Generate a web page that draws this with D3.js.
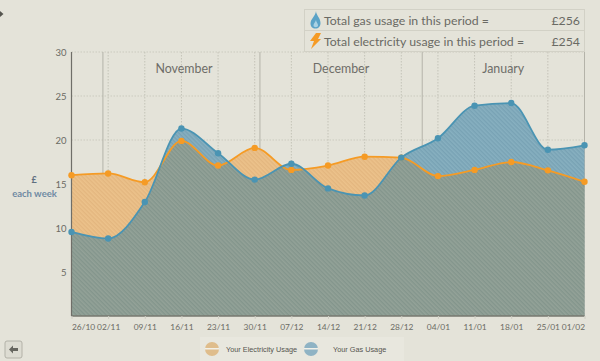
<!DOCTYPE html>
<html>
<head>
<meta charset="utf-8">
<script src="https://cdnjs.cloudflare.com/ajax/libs/d3/7.8.5/d3.min.js"></script>
<style>
    html, body { margin: 0; padding: 0; background: #e4e3d9; overflow: hidden; }
    text { font-family: Lato, sans-serif; }
</style>
</head>
<body>
<div id="chart"></div>
<script>
const weeks = ["2009-10-26", "2009-11-02", "2009-11-09", "2009-11-16", "2009-11-23", "2009-11-30", "2009-12-07",
    "2009-12-14", "2009-12-21", "2009-12-28", "2010-01-04", "2010-01-11", "2010-01-18", "2010-01-25", "2010-02-01"];
const gas = [9.55, 8.8, 12.95, 21.3, 18.5, 15.5, 17.3, 14.5, 13.7, 18.0, 20.2, 23.9, 24.2, 18.9, 19.4];
const electricity = [16.0, 16.2, 15.2, 19.9, 17.1, 19.1, 16.6, 17.1, 18.1, 18.0, 15.9, 16.6, 17.5, 16.55, 15.25];
const yTicks = [5, 10, 15, 20, 25, 30];
const monthStarts = ["2009-11-01", "2009-12-01", "2010-01-01", "2010-02-01"];
const monthNames = ["November", "December", "January"];
const monthCentres = ["2009-11-16", "2009-12-16", "2010-01-16"];
const totals = [["Total gas usage in this period =", "£256"], ["Total electricity usage in this period =", "£254"]];

const width = 600, height = 361;
const margin = { left: 71.5, top: 52, right: 15.5, bottom: 45 };
const parseDate = d3.utcParse("%Y-%m-%d");
const formatTick = d3.utcFormat("%d/%m");
const dates = weeks.map(parseDate);

const x = d3.scaleUtc()
    .domain(d3.extent(dates))
    .range([margin.left, width - margin.right]);
const y = d3.scaleLinear()
    .domain([0, 30])
    .range([height - margin.bottom, margin.top]);

const svg = d3.select("#chart").append("svg")
    .attr("width", width)
    .attr("height", height)
    .style("display", "block");

const defs = svg.append("defs");

// diagonal stripes for the three fills
function stripes(id, base, stripe) {
    const p = defs.append("pattern")
        .attr("id", id)
        .attr("width", 3)
        .attr("height", 3)
        .attr("patternUnits", "userSpaceOnUse")
        .attr("patternTransform", "rotate(45)");
    p.append("rect").attr("width", 3).attr("height", 3).attr("fill", base);
    p.append("rect").attr("width", 3).attr("height", 1.4).attr("fill", stripe);
}
stripes("elecFill", "#ecc28b", "#e3b67f");
stripes("gasFill", "#87b0c0", "#78a2b4");
stripes("bothFill", "#93a298", "#83958c");

const curve = d3.curveMonotoneX;
const area = values => d3.area()
    .x((d, i) => x(dates[i]))
    .y0(y(0))
    .y1(d => y(d))
    .curve(curve)(values);
const line = values => d3.line()
    .x((d, i) => x(dates[i]))
    .y(d => y(d))
    .curve(curve)(values);

defs.append("clipPath").attr("id", "gasClip")
    .append("path").attr("d", area(gas));

// Raster
svg.append("g").selectAll("line")
    .data(yTicks)
    .join("line")
    .attr("x1", margin.left)
    .attr("x2", width - margin.right)
    .attr("y1", d => y(d))
    .attr("y2", d => y(d))
    .attr("stroke", "#cbcabf")
    .attr("stroke-dasharray", "1.5,1.5");

svg.append("g").selectAll("line")
    .data(dates.slice(1))
    .join("line")
    .attr("x1", d => x(d))
    .attr("x2", d => x(d))
    .attr("y1", y(30))
    .attr("y2", y(0))
    .attr("stroke", "#c4c3b8")
    .attr("stroke-dasharray", "1.5,1.5");

svg.append("g").selectAll("line")
    .data(monthStarts.map(parseDate))
    .join("line")
    .attr("x1", d => x(d))
    .attr("x2", d => x(d))
    .attr("y1", y(30))
    .attr("y2", y(0))
    .attr("stroke", "#b4b3a9")
    .attr("stroke-width", 1);

// Flächen
svg.append("path").attr("d", area(electricity)).attr("fill", "url(#elecFill)");
svg.append("path").attr("d", area(gas)).attr("fill", "url(#gasFill)");
svg.append("path").attr("d", area(electricity)).attr("fill", "url(#bothFill)").attr("clip-path", "url(#gasClip)");

// Achsen
svg.append("line")
    .attr("x1", margin.left).attr("x2", margin.left)
    .attr("y1", y(30)).attr("y2", y(0))
    .attr("stroke", "#6f6e68").attr("stroke-width", 1.2);
svg.append("line")
    .attr("x1", margin.left).attr("x2", width - margin.right)
    .attr("y1", y(0)).attr("y2", y(0))
    .attr("stroke", "#77786f").attr("stroke-width", 1.4);

const yAxis = svg.append("g")
    .attr("transform", `translate(${margin.left}, 0)`)
    .call(d3.axisLeft(y).tickValues(yTicks).tickSize(0).tickPadding(5));
yAxis.select(".domain").remove();
yAxis.selectAll("text").attr("fill", "#6b6b64").style("font-size", "9.5px").style("font-family", "Lato, sans-serif");

const xAxis = svg.append("g")
    .attr("transform", `translate(0, ${y(0)})`)
    .call(d3.axisBottom(x).tickValues(dates).tickFormat(formatTick).tickSize(3).tickPadding(5));
xAxis.select(".domain").remove();
xAxis.selectAll("line").attr("stroke", "#cfcec4");
xAxis.selectAll("text").attr("fill", "#6b6b64").style("font-size", "8.4px").style("font-family", "Lato, sans-serif");
xAxis.selectAll("text").filter((d, i) => i === 0).attr("text-anchor", "start");
xAxis.selectAll("text").filter((d, i) => i === dates.length - 1).attr("text-anchor", "end");

// Linien und Punkte
[[electricity, "#f59b25", 4], [gas, "#4a94b3", 4]].forEach(([values, colour, r]) => {
    svg.append("path")
        .attr("d", line(values))
        .attr("fill", "none")
        .attr("stroke", colour)
        .attr("stroke-width", 1.8);
    svg.append("g").selectAll("circle")
        .data(values)
        .join("circle")
        .attr("cx", (d, i) => x(dates[i]))
        .attr("cy", d => y(d))
        .attr("r", r - 0.8)
        .attr("fill", colour);
});

// Monate
svg.append("g").selectAll("text")
    .data(monthNames)
    .join("text")
    .attr("x", (d, i) => x(parseDate(monthCentres[i])) + 2.5)
    .attr("y", 73)
    .attr("text-anchor", "middle")
    .attr("fill", "#6e6d68")
    .style("font-size", "12.4px")
    .text(d => d);

// y-Titel
svg.append("text").attr("x", 34).attr("y", 183).attr("text-anchor", "middle")
    .attr("fill", "#5f6f80").style("font-size", "9px").style("font-weight", "bold").text("£");
svg.append("text").attr("x", 34.5).attr("y", 197).attr("text-anchor", "middle")
    .attr("fill", "#6f8aa3").style("font-size", "9.5px").style("font-weight", "bold").text("each week");

// Tabelle oben rechts
svg.append("rect").attr("x", 304.5).attr("y", 9.5).attr("width", 280).attr("height", 42)
    .attr("fill", "#e4e3d9").attr("stroke", "#d2d1c6");
svg.append("line").attr("x1", 304.5).attr("x2", 584.5).attr("y1", 30.5).attr("y2", 30.5).attr("stroke", "#d2d1c6");
totals.forEach(([label, value], i) => {
    svg.append("text").attr("x", 324).attr("y", 25 + i * 21)
        .attr("fill", "#6a6a64").style("font-size", "12.3px").text(label);
    svg.append("text").attr("x", 580).attr("y", 25 + i * 21).attr("text-anchor", "end")
        .attr("fill", "#6a6a64").style("font-size", "12.3px").text(value);
});
svg.append("path")
    .attr("d", "M316 11 C316 15 320.500 18 320.500 23 C320.500 26.500 318.500 28.500 315.500 28.500 C312.500 28.500 310.500 26.500 310.500 23.500 C310.500 19 315.500 16 316 11 Z")
    .attr("fill", "#5ba3c7");
svg.append("path")
    .attr("d", "M316 20 C316 22 318.500 24 318 26 C317.500 27.500 314 27.500 313.500 26 C313 24 315.500 22 316 20 Z")
    .attr("fill", "#a9d2e4");
svg.append("path")
    .attr("d", "M316 33 L321 33 L318 39 L321 39 L311 49 L314 41 L310 41 Z")
    .attr("fill", "#f59b25");

// Legende
svg.append("rect").attr("x", 200).attr("y", 337).attr("width", 204).attr("height", 24).attr("fill", "#e8e7de");
[[212, "#dfbd8c", "Your Electricity Usage", 226], [311, "#8fb3c4", "Your Gas Usage", 333]].forEach(([cx, colour, label, tx]) => {
    svg.append("circle").attr("cx", cx).attr("cy", 349).attr("r", 7).attr("fill", colour);
    svg.append("rect").attr("x", cx - 7).attr("y", 348).attr("width", 14).attr("height", 1.5).attr("fill", "#f1f0e8");
    svg.append("text").attr("x", tx).attr("y", 352)
        .attr("fill", "#55554f")
        .style("font-family", "'Liberation Sans', sans-serif")
        .style("font-size", "7.3px")
        .text(label);
});

// Knopf und Pfeile
svg.append("rect").attr("x", 5).attr("y", 341).attr("width", 17).attr("height", 17).attr("rx", 2)
    .attr("fill", "#dddcd2").attr("stroke", "#b3b2a8");
svg.append("path").attr("d", "M9 349.500 L13 345.500 L13 348 L18 348 L18 351 L13 351 L13 353.500 Z").attr("fill", "#66665f");
svg.append("path").attr("d", "M0 11 L3.500 14 L0 17 Z").attr("fill", "#55554f");
</script>
</body>
</html>
